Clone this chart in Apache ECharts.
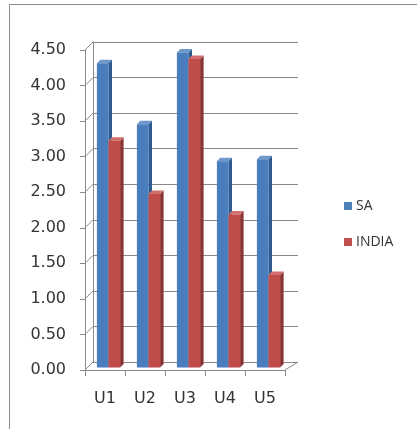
<!DOCTYPE html>
<html>
<head>
<meta charset="utf-8">
<script src="https://cdn.jsdelivr.net/npm/echarts@6/dist/echarts.min.js"></script>
<style>
  html, body { margin: 0; padding: 0; background: #fff; }
  #chart { width: 417px; height: 429px; }
</style>
</head>
<body>
<div id="chart"></div>
<script>
// Scores per unit
const categories = ['U1', 'U2', 'U3', 'U4', 'U5'];
const saValues = [4.28, 3.42, 4.43, 2.90, 2.93];
const indiaValues = [3.19, 2.44, 4.34, 2.15, 1.30];
const yTicks = [0, 0.5, 1, 1.5, 2, 2.5, 3, 3.5, 4, 4.5];

const GRID_COLOR = '#8a8a8a';
const TEXT_COLOR = '#333333';

// 3D-look column: front face, right side face and top face
function columnRenderer(slot, faces) {
  return function (params, api) {
    const idx = api.value(0);
    const val = api.value(1);
    const band = api.size([1, 0])[0];
    const base = api.coord([idx, 0]);
    const tip = api.coord([idx, val]);
    const w = band * 0.29;
    const shiftX = 3.5, shiftY = -2.5, d = 3.5;
    const x0 = base[0] + shiftX - w + slot * w;
    const x1 = x0 + w;
    const yb = base[1] + shiftY;
    const yt = tip[1] + shiftY;
    return {
      type: 'group',
      children: [
        { type: 'polygon', shape: { points: [[x1, yt], [x1 + d, yt - d], [x1 + d, yb - d], [x1, yb]] },
          style: { fill: faces.side } },
        { type: 'polygon', shape: { points: [[x0, yt], [x1, yt], [x1 + d, yt - d], [x0 + d, yt - d]] },
          style: { fill: faces.top } },
        { type: 'rect', shape: { x: x0, y: yt, width: w, height: yb - yt },
          style: { fill: faces.front } }
      ]
    };
  };
}

// Diagonal edges of the side wall, one per y tick
function wallRenderer(params, api) {
  const v = api.value(0);
  const band = api.size([1, 0])[0];
  const p = api.coord([0, v]);
  const x = p[0] - band / 2;
  return {
    type: 'line',
    shape: { x1: x, y1: p[1], x2: x + 8, y2: p[1] - 8 },
    style: { stroke: GRID_COLOR, lineWidth: 1 }
  };
}

// Floor edge on the right side
function floorRenderer(params, api) {
  const band = api.size([1, 0])[0];
  const p = api.coord([categories.length - 1, 0]);
  const x = p[0] + band / 2;
  return {
    type: 'line',
    shape: { x1: x, y1: p[1], x2: x + 13, y2: p[1] - 8 },
    style: { stroke: GRID_COLOR, lineWidth: 1 }
  };
}

const chart = echarts.init(document.getElementById('chart'), null, { renderer: 'canvas' });

chart.setOption({
  backgroundColor: '#ffffff',
  animation: false,
  grid: [
    { left: 85, right: 132, top: 50, bottom: 59 },
    { left: 93, right: 119, top: 42, bottom: 67 }
  ],
  xAxis: [
    {
      type: 'category', data: categories, gridIndex: 0,
      axisLine: { lineStyle: { color: GRID_COLOR } },
      axisTick: { show: true, length: 6, alignWithLabel: false, lineStyle: { color: GRID_COLOR } },
      axisLabel: { color: TEXT_COLOR, fontFamily: 'DejaVu Sans', fontSize: 16, margin: 21 }
    },
    {
      type: 'category', data: categories, gridIndex: 1, show: false
    }
  ],
  yAxis: [
    {
      type: 'value', gridIndex: 0, min: 0, max: 4.5, interval: 0.5,
      axisLine: { show: true, lineStyle: { color: GRID_COLOR } },
      axisTick: { show: true, length: 5, lineStyle: { color: GRID_COLOR } },
      splitLine: { show: false },
      axisLabel: {
        color: TEXT_COLOR, fontFamily: 'DejaVu Sans', fontSize: 16, margin: 19,
        formatter: v => v.toFixed(2)
      }
    },
    {
      type: 'value', gridIndex: 1, min: 0, max: 4.5, interval: 0.5,
      axisLine: { show: true, lineStyle: { color: GRID_COLOR } },
      axisTick: { show: false },
      axisLabel: { show: false },
      splitLine: { show: true, lineStyle: { color: GRID_COLOR, width: 1 } }
    }
  ],
  legend: {
    orient: 'vertical', left: 339, top: 194,
    itemWidth: 8, itemHeight: 8, itemGap: 22, icon: 'rect',
    textStyle: { color: TEXT_COLOR, fontFamily: 'Open Sans', fontSize: 14, padding: [0, 0, 0, -1] },
    data: ['SA', 'INDIA']
  },
  graphic: [
    { type: 'line', shape: { x1: 9.5, y1: 4.5, x2: 417, y2: 4.5 }, style: { stroke: '#8c8c8c', lineWidth: 1 } },
    { type: 'line', shape: { x1: 9.5, y1: 4.5, x2: 9.5, y2: 429 }, style: { stroke: '#8c8c8c', lineWidth: 1 } }
  ],
  series: [
    {
      type: 'custom', name: 'walls', xAxisIndex: 0, yAxisIndex: 0, silent: true,
      renderItem: wallRenderer, data: yTicks.map(v => [v]), encode: { y: 0 }, z: 1
    },
    {
      type: 'custom', name: 'floor', xAxisIndex: 0, yAxisIndex: 0, silent: true,
      renderItem: floorRenderer, data: [[0]], z: 1
    },
    {
      type: 'custom', name: 'SA', xAxisIndex: 0, yAxisIndex: 0,
      itemStyle: { color: '#4F81BD' },
      renderItem: columnRenderer(0, { front: '#4A7DBC', side: '#2E5A90', top: '#6E97CC' }),
      data: saValues.map((v, i) => [i, v]), encode: { x: 0, y: 1 }, z: 3
    },
    {
      type: 'custom', name: 'INDIA', xAxisIndex: 0, yAxisIndex: 0,
      itemStyle: { color: '#C0504D' },
      renderItem: columnRenderer(1, { front: '#BF4C49', side: '#8A3432', top: '#D26F6C' }),
      data: indiaValues.map((v, i) => [i, v]), encode: { x: 0, y: 1 }, z: 4
    }
  ]
});
</script>
</body>
</html>
